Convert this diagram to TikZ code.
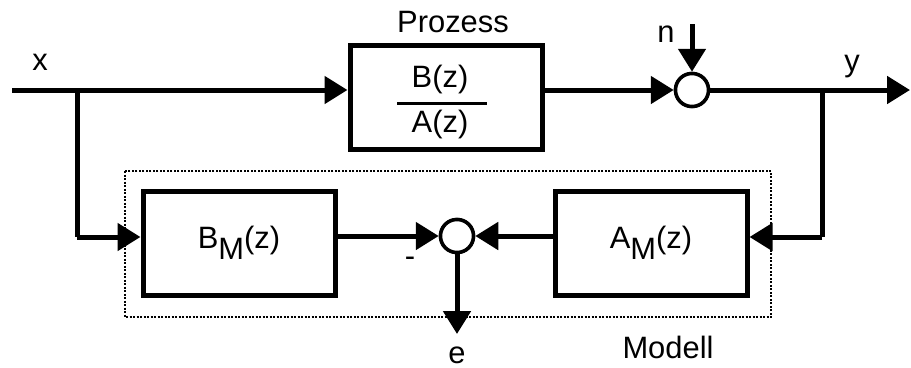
\documentclass[tikz,border=0pt]{standalone}
\usepackage{fontspec}
\setmainfont{Liberation Sans}
\usetikzlibrary{arrows.meta}
\begin{document}
\begin{tikzpicture}[x=1bp,y=-1bp,
  lab/.style={inner sep=0pt,font=\fontsize{31}{33}\selectfont},
  blk/.style={draw,line width=5bp,minimum width=192bp,minimum height=104bp,inner sep=0pt,font=\fontsize{31}{33}\selectfont},
  sumc/.style={draw,circle,line width=3.5bp,fill=white,minimum size=33bp,inner sep=0pt},
  sig/.style={line width=5bp,-{Triangle[length=23bp,width=27bp]}},
  wire/.style={line width=5bp}]
\useasboundingbox (0,0) rectangle (911,367);
% blocks
\node[blk] (proc) at (446,97) {};
\node[lab] (num) at (440,80) {B(z)};
\node[lab] (den) at (440,125) {A(z)};
\coordinate (fl) at (397,103);
\coordinate (fr) at (487,103);
\draw[line width=3bp] (fl) -- (fr);
\node[lab] (ptitle) at (453,22) {Prozess};
\node[blk] (bm) at (239,243) {B\raisebox{-0.36em}{M}(z)};
\node[blk] (am) at (651,243) {A\raisebox{-0.36em}{M}(z)};
\node[sumc] (s1) at (692,90) {};
\node[sumc] (s2) at (457,236) {};
% dotted model frame
\draw[line width=2.2bp,dash pattern=on 2bp off 1.5bp] (125,171) rectangle (771,317);
\node[lab] (mlab) at (668,347) {Modell};
% coordinates
\coordinate (xin) at (12,90);
\coordinate (b1) at (77,90);
\coordinate (b1d) at (77,237);
\coordinate (yout) at (910,90);
\coordinate (b2) at (822,90);
\coordinate (b2d) at (822,237);
\coordinate (nin) at (692,24);
\coordinate (eout) at (457,334);
% labels
\node[lab] (xl) at (40,62) {x};
\node[lab] (yl) at (852,67) {y};
\node[lab] (nl) at (666,34) {n};
\node[lab] (el) at (457,355) {e};
\node[lab] (minus) at (410,262) {-};
% connectors
\draw[sig] (xin) -- (proc.west |- xin);
\draw[sig] (proc.east |- s1) -- (s1.west);
\draw[sig] (nin) -- (s1.north);
\draw[sig] (s1.east) -- (yout);
\draw[wire] (b1) -- (b1d);
\draw[sig] (b1d) -- (bm.west |- b1d);
\draw[wire] (b2) -- (b2d);
\draw[sig] (b2d) -- (am.east |- b2d);
\draw[sig] (bm.east |- s2) -- (s2.west);
\draw[sig] (am.west |- s2) -- (s2.east);
\draw[sig] (s2.south) -- (eout);
\node[sumc] at (s1) {};
\node[sumc] at (s2) {};
\end{tikzpicture}
\end{document}
